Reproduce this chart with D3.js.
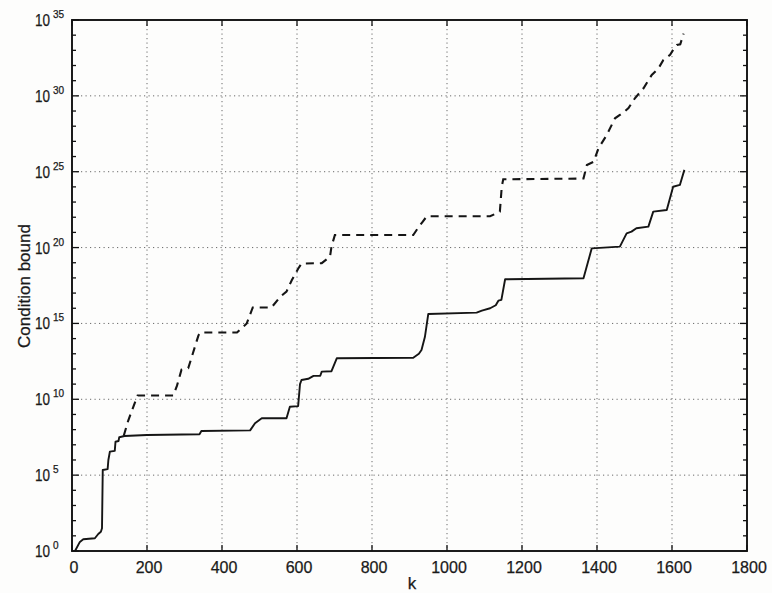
<!DOCTYPE html>
<html>
<head>
<meta charset="utf-8">
<script src="https://cdn.jsdelivr.net/npm/d3@7/dist/d3.min.js"></script>
<style>
  html, body { margin: 0; padding: 0; background: #fdfdfc; }
  svg { display: block; }
  text { font-family: "Liberation Sans", Arial, Helvetica, sans-serif; fill: #1a1a1a; stroke: #1a1a1a; stroke-width: 0.25; }
</style>
</head>
<body>
<svg id="chart" width="772" height="593"></svg>
<script>
// Lower curve: step index k and log10 of the condition bound
const kLower = [8, 21, 30, 61, 70, 77, 80, 82, 95, 97, 101, 114, 116, 124, 126, 140, 200, 340, 345, 475, 488, 506, 572, 581, 603, 608, 612, 630, 644, 662, 666, 692, 706, 910, 925, 932, 941, 950, 1079, 1093, 1115, 1130, 1137, 1145, 1155, 1364, 1386, 1461, 1479, 1492, 1505, 1537, 1550, 1586, 1603, 1621, 1633];
const log10Lower = [0, 0.6, 0.77, 0.84, 1.12, 1.27, 1.5, 5.34, 5.4, 6.0, 6.55, 6.6, 7.2, 7.25, 7.5, 7.58, 7.65, 7.7, 7.91, 7.95, 8.42, 8.75, 8.75, 9.51, 9.55, 11.0, 11.27, 11.35, 11.54, 11.55, 11.82, 11.85, 12.7, 12.74, 13.0, 13.25, 14.1, 15.62, 15.71, 15.84, 16.0, 16.2, 16.5, 16.55, 17.91, 17.98, 19.95, 20.06, 20.94, 21.05, 21.27, 21.38, 22.37, 22.48, 24.01, 24.13, 25.12];

// Upper curve (dashed)
const kUpper = [138, 150, 165, 175, 270, 280, 292, 310, 322, 337, 342, 440, 466, 482, 532, 555, 572, 586, 603, 612, 666, 688, 692, 701, 910, 925, 935, 946, 1115, 1141, 1146, 1150, 1364, 1373, 1391, 1404, 1426, 1448, 1461, 1475, 1484, 1501, 1524, 1546, 1564, 1577, 1595, 1603, 1613, 1622, 1631];
const log10Upper = [7.6, 8.6, 9.6, 10.25, 10.25, 10.9, 11.95, 12.05, 13.0, 14.2, 14.4, 14.4, 15.0, 16.05, 16.05, 16.75, 17.1, 17.85, 18.6, 18.95, 18.97, 19.4, 20.06, 20.83, 20.83, 21.38, 21.7, 22.06, 22.06, 22.37, 24.01, 24.5, 24.55, 25.44, 25.66, 26.55, 27.42, 28.52, 28.74, 29.0, 29.2, 29.84, 30.5, 31.38, 31.82, 32.37, 32.7, 33.03, 33.36, 33.4, 34.1];

// Axis ticks
const xTicks = [0, 200, 400, 600, 800, 1000, 1200, 1400, 1600, 1800];
const yMajorExp = [0, 5, 10, 15, 20, 25, 30, 35];
const yMinorExp = d3.range(0, 36);
const xLabel = "k";
const yLabel = "Condition bound";

const svg = d3.select("#chart");
const plotLeft = 72, plotRight = 747, plotTop = 20, plotBottom = 551;

const x = d3.scaleLinear().domain([0, 1800]).range([plotLeft, plotRight]);
const y = d3.scaleLog().domain([1, 1e35]).range([plotBottom, plotTop]);

// Dotted grid
const grid = svg.append("g")
  .attr("stroke", "#6a6a6a").attr("stroke-width", 1)
  .attr("stroke-dasharray", "1.2,3.3");
grid.selectAll("line.gx").data(xTicks.slice(1, -1)).join("line")
  .attr("x1", d => x(d)).attr("x2", d => x(d))
  .attr("y1", plotTop).attr("y2", plotBottom);
grid.selectAll("line.gy").data(yMajorExp.slice(1, -1)).join("line")
  .attr("y1", d => y(10 ** d)).attr("y2", d => y(10 ** d))
  .attr("x1", plotLeft).attr("x2", plotRight);

// Tick marks on all four sides, pointing inward
const ticks = svg.append("g").attr("stroke", "#111").attr("stroke-width", 1.3);
xTicks.forEach(t => {
  ticks.append("line").attr("x1", x(t)).attr("x2", x(t)).attr("y1", plotBottom).attr("y2", plotBottom - 6);
  ticks.append("line").attr("x1", x(t)).attr("x2", x(t)).attr("y1", plotTop).attr("y2", plotTop + 6);
});
yMinorExp.forEach(e => {
  const len = e % 5 === 0 ? 7 : 4;
  ticks.append("line").attr("y1", y(10 ** e)).attr("y2", y(10 ** e)).attr("x1", plotLeft).attr("x2", plotLeft + len);
  ticks.append("line").attr("y1", y(10 ** e)).attr("y2", y(10 ** e)).attr("x1", plotRight).attr("x2", plotRight - len);
});

// Curves
const line = d3.line().x(d => x(d[0])).y(d => y(10 ** d[1]));
svg.append("path")
  .datum(kLower.map((k, i) => [k, log10Lower[i]]))
  .attr("d", line).attr("fill", "none")
  .attr("stroke", "#151515").attr("stroke-width", 1.9)
  .attr("stroke-linejoin", "round");
svg.append("path")
  .datum(kUpper.map((k, i) => [k, log10Upper[i]]))
  .attr("d", line).attr("fill", "none")
  .attr("stroke", "#151515").attr("stroke-width", 2.1)
  .attr("stroke-dasharray", "8,6");

// Frame
svg.append("rect")
  .attr("x", plotLeft).attr("y", plotTop)
  .attr("width", plotRight - plotLeft).attr("height", plotBottom - plotTop)
  .attr("fill", "none").attr("stroke", "#111").attr("stroke-width", 1.9);

// X tick labels
svg.append("g").selectAll("text").data(xTicks).join("text")
  .attr("x", d => x(d) + 2).attr("y", 573)
  .attr("text-anchor", "middle").attr("font-size", 16)
  .text(d => d);

// Y tick labels as 10 with a raised exponent
const yl = svg.append("g");
yMajorExp.forEach(e => {
  const yy = y(10 ** e) + 6;
  yl.append("text").attr("x", 50).attr("y", yy)
    .attr("text-anchor", "end").attr("font-size", 16)
    .attr("textLength", 15).attr("lengthAdjust", "spacingAndGlyphs")
    .text("10");
  yl.append("text").attr("x", 53).attr("y", yy - 8)
    .attr("text-anchor", "start").attr("font-size", 10)
    .text(e);
});

// Axis titles
svg.append("text").attr("x", 412).attr("y", 589)
  .attr("text-anchor", "middle").attr("font-size", 17).text(xLabel);
svg.append("text")
  .attr("transform", "translate(30,286) rotate(-90)")
  .attr("text-anchor", "middle").attr("font-size", 17).text(yLabel);
</script>
</body>
</html>
